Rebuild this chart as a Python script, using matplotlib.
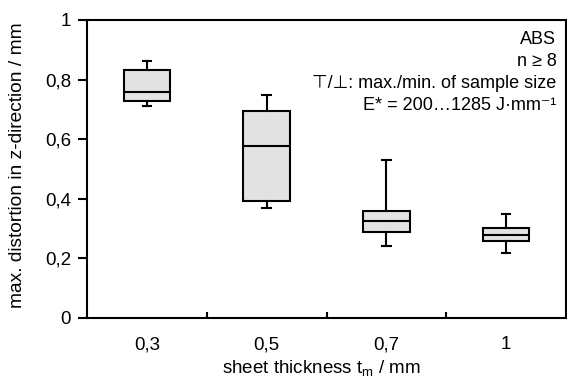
import numpy as np
import matplotlib
matplotlib.use('Agg')
import matplotlib.pyplot as plt

plt.rcParams['font.family'] = ['Liberation Sans', 'DejaVu Sans']

categories = ['0,3', '0,5', '0,7', '1']
whislo = [0.711, 0.368, 0.241, 0.217]
q1 = [0.729, 0.393, 0.290, 0.259]
med = [0.759, 0.578, 0.325, 0.278]
q3 = [0.832, 0.695, 0.360, 0.301]
whishi = [0.862, 0.748, 0.530, 0.350]
yticks = [0, 0.2, 0.4, 0.6, 0.8, 1]
ytick_labels = ['0', '0,2', '0,4', '0,6', '0,8', '1']

stats = []
for i in range(len(categories)):
    stats.append(dict(whislo=whislo[i], q1=q1[i], med=med[i], q3=q3[i],
                      whishi=whishi[i], fliers=[], label=categories[i]))

fig = plt.figure(figsize=(5.67, 3.8), dpi=100)
ax = fig.add_axes([87/567, 62/380, 479/567, 298/380])

fs = 13.5
lw = 1.5
pos = np.arange(len(categories))
ax.bxp(stats, positions=pos, widths=0.39, patch_artist=True, showfliers=False,
       capwidths=0.07,
       boxprops=dict(facecolor='#e2e2e2', edgecolor='black', linewidth=lw),
       medianprops=dict(color='black', linewidth=lw),
       whiskerprops=dict(color='black', linewidth=lw),
       capprops=dict(color='black', linewidth=lw))

ax.set_xlim(-0.5, len(categories) - 0.5)
ax.set_ylim(0, 1)
ax.set_yticks(yticks)
ax.set_yticklabels(ytick_labels)
ax.set_xticks(pos)
ax.set_xticklabels(categories)
ax.set_xticks(pos[:-1] + 0.5, minor=True)
ax.tick_params(axis='x', which='major', length=0, pad=13, labelsize=fs)
ax.tick_params(axis='x', which='minor', direction='in', length=4, width=lw)
ax.tick_params(axis='y', direction='out', length=6.5, width=lw, pad=5, labelsize=fs)
for s in ax.spines.values():
    s.set_linewidth(lw)

ax.set_xlabel('sheet thickness t$_\\mathregular{m}$ / mm', fontsize=fs, labelpad=3)
ax.xaxis.set_label_coords(0.49, -0.135)
ax.set_ylabel('max. distortion in z-direction / mm', fontsize=13.8)
ax.yaxis.set_label_coords(-0.127, 0.513)

ax.text(0.98, 0.962,
        'ABS\nn ≥ 8\n⊤/⊥: max./min. of sample size\nE* = 200…1285 J·mm⁻¹',
        transform=ax.transAxes, ha='right', va='top', fontsize=13,
        linespacing=1.37)

fig.savefig('out.png', dpi=100)
